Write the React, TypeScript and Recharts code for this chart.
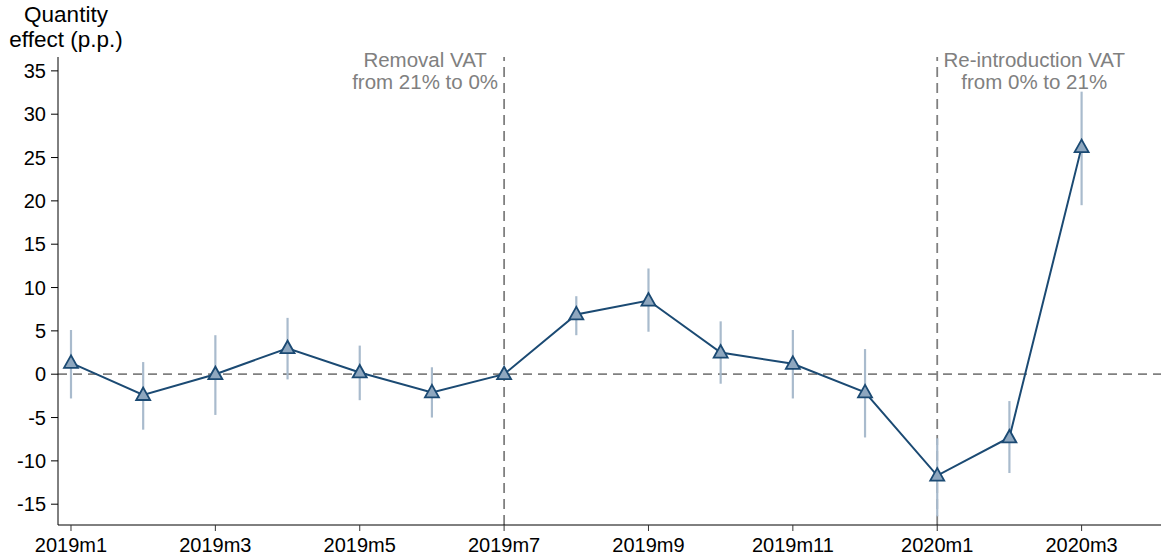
import React from 'react';
import {
  ComposedChart,
  Line,
  XAxis,
  YAxis,
  ReferenceLine,
  ErrorBar,
} from 'recharts';

const months = [
  '2019m1', '2019m2', '2019m3', '2019m4', '2019m5', '2019m6', '2019m7', '2019m8',
  '2019m9', '2019m10', '2019m11', '2019m12', '2020m1', '2020m2', '2020m3',
];
const estimates = [1.3, -2.4, 0, 3.0, 0.2, -2.1, 0, 6.9, 8.5, 2.5, 1.2, -2.1, -11.7, -7.3, 26.2];
const ciLow = [-2.8, -6.4, -4.7, -0.6, -3.0, -5.0, 0, 4.5, 4.9, -1.1, -2.8, -7.3, -16.4, -11.4, 19.5];
const ciHigh = [5.1, 1.4, 4.5, 6.5, 3.3, 0.8, 0, 9.0, 12.2, 6.1, 5.1, 2.9, -7.4, -3.1, 32.6];
const yTicks = [-15, -10, -5, 0, 5, 10, 15, 20, 25, 30, 35];
const xTicks = [0, 2, 4, 6, 8, 10, 12, 14];
const removalMonth = 6;
const reintroMonth = 12;

const data = months.map((m, i) => ({
  idx: i,
  month: m,
  value: estimates[i],
  err: [estimates[i] - ciLow[i], ciHigh[i] - estimates[i]],
}));

const FONT = '"Liberation Sans", Arial, sans-serif';
const GREY = '#808080';
const NAVY = '#1b4a73';

const Triangle = (props: any) => {
  const { cx, cy, index } = props;
  if (cx == null || cy == null) return null;
  return (
    <polygon
      key={`tri-${index}`}
      points={`${cx},${cy - 7.5} ${cx - 7},${cy + 5} ${cx + 7},${cy + 5}`}
      fill="#8ea7bf"
      stroke={NAVY}
      strokeWidth={1.8}
    />
  );
};

const noteLabel = (lines: string[], dx: number) => (props: any) => {
  const { viewBox } = props;
  const x = viewBox.x + dx;
  return (
    <text x={x} y={viewBox.y} textAnchor="middle" fontFamily={FONT} fontSize={20.5} fill={GREY}>
      {lines.map((l, i) => (
        <tspan key={i} x={x} y={viewBox.y + 10 + i * 22}>
          {l}
        </tspan>
      ))}
    </text>
  );
};

export default function App() {
  return (
    <div style={{ position: 'absolute', left: 0, top: 0, width: 1161, height: 560, background: '#fff' }}>
      <div
        style={{
          position: 'absolute',
          left: 6,
          top: 2,
          width: 120,
          textAlign: 'center',
          fontFamily: FONT,
          fontSize: 22.5,
          lineHeight: '25px',
          color: '#000',
        }}
      >
        Quantity
        <br />
        effect (p.p.)
      </div>
      <ComposedChart
        width={1161}
        height={560}
        data={data}
        margin={{ top: 57, right: 0, bottom: 0, left: 0 }}
      >
        <XAxis
          type="number"
          dataKey="idx"
          domain={[-0.18, 15.1]}
          allowDataOverflow
          ticks={xTicks}
          tickFormatter={(i: number) => months[i]}
          height={35}
          tickSize={6}
          tickMargin={7}
          stroke="#000"
          tick={{ fill: '#000', fontSize: 20, fontFamily: FONT }}
          tickLine={{ stroke: '#333' }}
          interval={0}
        />
        <YAxis
          type="number"
          domain={[-17.4, 36.6]}
          allowDataOverflow
          ticks={yTicks}
          width={58}
          tickSize={7}
          tickMargin={5}
          stroke="#000"
          tick={{ fill: '#000', fontSize: 20, fontFamily: FONT }}
          interval={0}
        />
        <ReferenceLine y={0} stroke={GREY} strokeWidth={1.8} strokeDasharray="9 6" />
        <ReferenceLine
          x={removalMonth}
          stroke={GREY}
          strokeWidth={1.8}
          strokeDasharray="10 6"
          label={noteLabel(['Removal VAT', 'from 21% to 0%'], -79)}
        />
        <ReferenceLine
          x={reintroMonth}
          stroke={GREY}
          strokeWidth={1.8}
          strokeDasharray="10 6"
          label={noteLabel(['Re-introduction VAT', 'from 0% to 21%'], 97)}
        />
        <Line
          dataKey="value"
          stroke={NAVY}
          strokeWidth={2}
          dot={Triangle}
          activeDot={false}
          isAnimationActive={false}
        >
          <ErrorBar dataKey="err" width={0} stroke="#a9bbcd" strokeWidth={2.2} direction="y" />
        </Line>
      </ComposedChart>
    </div>
  );
}
